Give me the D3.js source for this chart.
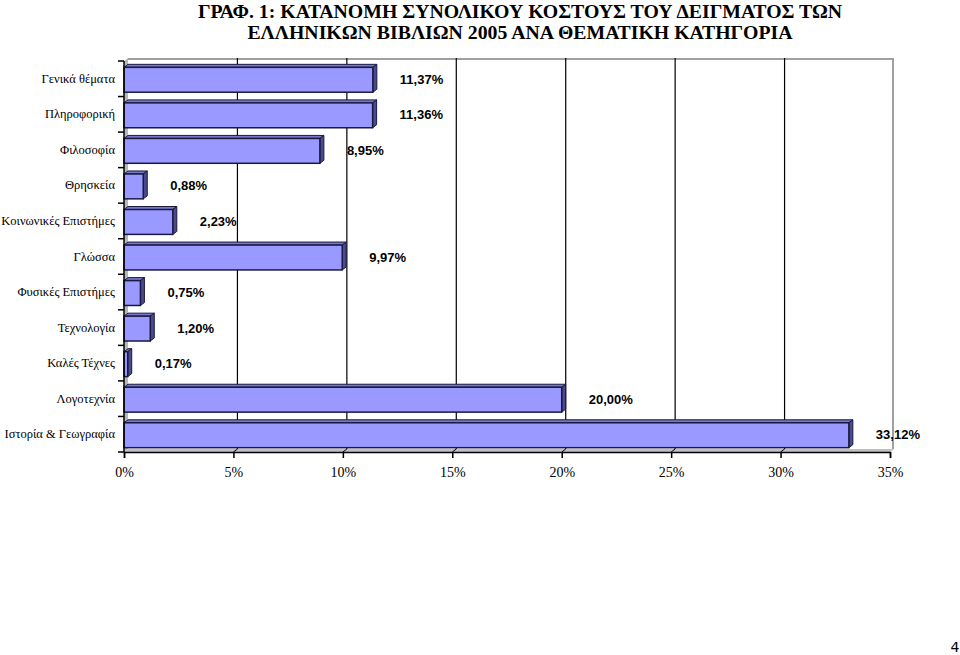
<!DOCTYPE html>
<html><head><meta charset="utf-8">
<script src="https://cdn.jsdelivr.net/npm/d3@7"></script>
<style>body{margin:0;background:#fff}svg{display:block}</style>
</head><body>
<script>
const titleLines = ["ΓΡΑΦ. 1: ΚΑΤΑΝΟΜΗ ΣΥΝΟΛΙΚΟΥ ΚΟΣΤΟΥΣ ΤΟΥ ΔΕΙΓΜΑΤΟΣ ΤΩΝ", "ΕΛΛΗΝΙΚΩΝ ΒΙΒΛΙΩΝ 2005 ΑΝΑ ΘΕΜΑΤΙΚΗ ΚΑΤΗΓΟΡΙΑ"];
const categories = ["Γενικά θέματα","Πληροφορική","Φιλοσοφία","Θρησκεία","Κοινωνικές Επιστήμες","Γλώσσα","Φυσικές Επιστήμες","Τεχνολογία","Καλές Τέχνες","Λογοτεχνία","Ιστορία & Γεωγραφία"];
const values = [11.37, 11.36, 8.95, 0.88, 2.23, 9.97, 0.75, 1.20, 0.17, 20.00, 33.12];
const xTicks = [0, 5, 10, 15, 20, 25, 30, 35];
const pageNumber = "4";

(function () {
const W = 960, H = 655;
const svg = d3.select("body").append("svg").attr("width", W).attr("height", H);
const pL = 124, pR = 890, pT = 61, pB = 452, d = 4, dy = 3;
const x = d3.scaleLinear().domain([0, 35]).range([pL, pR]);
const y = d3.scaleBand().domain(categories).range([pT, pB]).paddingInner(0.3).paddingOuter(0.15);
const fmt = v => d3.format(".2f")(v).replace(".", ",") + "%";

// title
svg.append("g").selectAll("text").data(titleLines).join("text")
  .attr("x", 520).attr("y", (t, i) => 17.5 + i * 21)
  .attr("text-anchor", "middle")
  .style("font-family", "'Liberation Serif','Times New Roman',serif")
  .style("font-weight", "bold").style("font-size", "19.8px").text(t => t);

// back wall frame (grey top and right edge)
svg.append("path")
  .attr("d", `M${pL + d},${pT - dy + 1}H${pR + d - 1}V${pB - dy}`)
  .attr("fill", "none").attr("stroke", "#a0a0a0").attr("stroke-width", 2);
// left side wall
svg.append("path")
  .attr("d", `M${pL},${pT}L${pL + d},${pT - dy}L${pL + d},${pB - dy}L${pL},${pB}Z`)
  .attr("fill", "#b8b8b8");
// floor
svg.append("path")
  .attr("d", `M${pL},${pB}L${pL + d},${pB - dy}L${pR + d},${pB - dy}L${pR},${pB}Z`)
  .attr("fill", "#c0c0c0");

// gridlines on back wall
svg.append("g").selectAll("line").data(xTicks.slice(1, -1)).join("line")
  .attr("x1", v => x(v) + d).attr("x2", v => x(v) + d)
  .attr("y1", pT - dy).attr("y2", pB - dy)
  .attr("stroke", "#000").attr("stroke-width", 1.2);
svg.append("g").selectAll("line").data(xTicks.slice(1, -1)).join("line")
  .attr("x1", v => x(v) + d).attr("x2", v => x(v))
  .attr("y1", pB - dy).attr("y2", pB)
  .attr("stroke", "#000").attr("stroke-width", 1);

// bars (3D)
const bh = y.bandwidth();
svg.append("g").selectAll("g").data(categories).join("g").each(function (c, i) {
  const g = d3.select(this);
  const x0 = x(0), x1 = x(values[i]);
  const y0 = y(c) + 1, y1 = y0 + bh;
  g.append("path")
    .attr("d", `M${x0},${y0}L${x0 + d},${y0 - dy}L${x1 + d},${y0 - dy}L${x1},${y0}Z`)
    .attr("fill", "#7777cc").attr("stroke", "#1a1a40").attr("stroke-width", 1);
  g.append("path")
    .attr("d", `M${x1},${y0}L${x1 + d},${y0 - dy}L${x1 + d},${y1 - dy}L${x1},${y1}Z`)
    .attr("fill", "#4a4a8c").attr("stroke", "#1a1a40").attr("stroke-width", 1);
  g.append("rect")
    .attr("x", x0).attr("y", y0).attr("width", Math.max(0, x1 - x0)).attr("height", bh)
    .attr("fill", "#9999ff").attr("stroke", "#1a1a40").attr("stroke-width", 1.5);
});

// data labels
svg.append("g").selectAll("text").data(categories).join("text")
  .attr("x", (c, i) => x(values[i]) + 27)
  .attr("y", c => y(c) + bh / 2 + 5)
  .style("font-family", "'Liberation Sans',Arial,sans-serif")
  .style("font-weight", "bold").style("font-size", "13px")
  .text((c, i) => fmt(values[i]));

// y axis
const yAxis = svg.append("g").attr("transform", `translate(${pL},0)`);
yAxis.append("line").attr("x1", 0).attr("x2", 0).attr("y1", pT).attr("y2", pB).attr("stroke", "#000").attr("stroke-width", 1.5);
const step = (pB - pT) / categories.length;
const bandEdges = d3.range(categories.length + 1).map(i => pT + i * step);
yAxis.selectAll("line.tk").data(bandEdges).join("line").attr("class", "tk")
  .attr("x1", -6).attr("x2", 0).attr("y1", v => v).attr("y2", v => v).attr("stroke", "#000").attr("stroke-width", 1.5);
yAxis.selectAll("text").data(categories).join("text")
  .attr("x", -9).attr("y", (c, i) => pT + (i + 0.5) * step + 4)
  .attr("text-anchor", "end")
  .style("font-family", "'Liberation Serif','Times New Roman',serif").style("font-size", "12.5px")
  .text(c => c);

// x axis
const xAxis = svg.append("g").attr("transform", `translate(0,${pB})`)
  .call(d3.axisBottom(x).tickValues(xTicks).tickFormat(v => v + "%").tickSize(6).tickPadding(9));
xAxis.select(".domain").attr("stroke", "#000").attr("stroke-width", 1.5);
xAxis.selectAll(".tick line").attr("stroke", "#000").attr("stroke-width", 1.5);
xAxis.selectAll("text").attr("fill", "#000")
  .style("font-family", "'Liberation Serif','Times New Roman',serif").style("font-size", "14px");

// page number
svg.append("text").attr("x", 955).attr("y", 652).attr("text-anchor", "middle")
  .style("font-family", "'DejaVu Sans',sans-serif").style("font-size", "14px").text(pageNumber);
})();
</script>
</body></html>
